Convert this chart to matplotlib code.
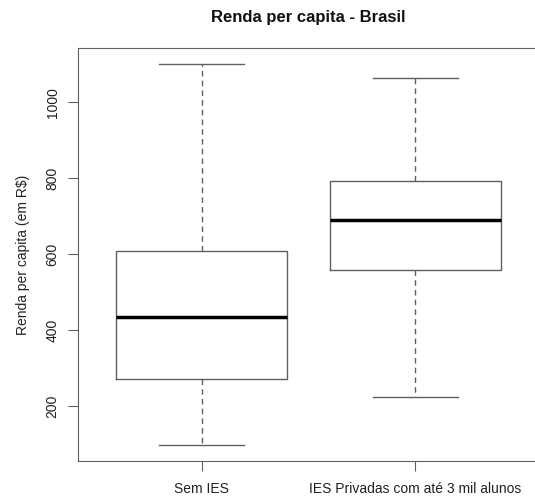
import matplotlib
matplotlib.use("Agg")
import matplotlib.pyplot as plt

plt.rcParams['font.family'] = ['Liberation Sans', 'DejaVu Sans']

# boxplot summary values
categories = ['Sem IES', 'IES Privadas com até 3 mil alunos']
whisker_low = [97, 224]
q1 = [272, 558]
median = [434, 690]
q3 = [607, 793]
whisker_high = [1101, 1063]

stats = []
for i in range(len(categories)):
    stats.append({'whislo': whisker_low[i], 'q1': q1[i], 'med': median[i],
                  'q3': q3[i], 'whishi': whisker_high[i], 'fliers': []})

fig = plt.figure(figsize=(5.35, 4.97), dpi=100)
ax = fig.add_axes([0.1452, 0.0724, 0.8632, 0.831])

gray = '#606060'
ax.bxp(stats, positions=[1, 2], widths=0.8, showfliers=False,
       boxprops=dict(color=gray, linewidth=1),
       medianprops=dict(color='black', linewidth=2.5),
       whiskerprops=dict(color=gray, linewidth=1, linestyle=(0, (4, 3))),
       capprops=dict(color=gray, linewidth=1), capwidths=0.4)

ax.set_xlim(0.42, 2.58)
ax.set_ylim(55, 1143)
ax.set_xticks([1, 2])
ax.set_xticklabels(categories)
ax.set_yticks([200, 400, 600, 800, 1000])
ax.set_yticklabels(['200', '400', '600', '800', '1000'], rotation=90, va='center')

for s in ax.spines.values():
    s.set_color(gray)
ax.tick_params(colors=gray, labelcolor='#222222', labelsize=10, length=7, pad=6)
ax.tick_params(axis='x', pad=8)

ax.set_ylabel('Renda per capita (em R$)', fontsize=10, labelpad=11, color='#222222')
ax.set_title('Renda per capita - Brasil', fontsize=12, fontweight='bold', pad=19,
             color='#111111')

fig.savefig('out.png', dpi=100)
